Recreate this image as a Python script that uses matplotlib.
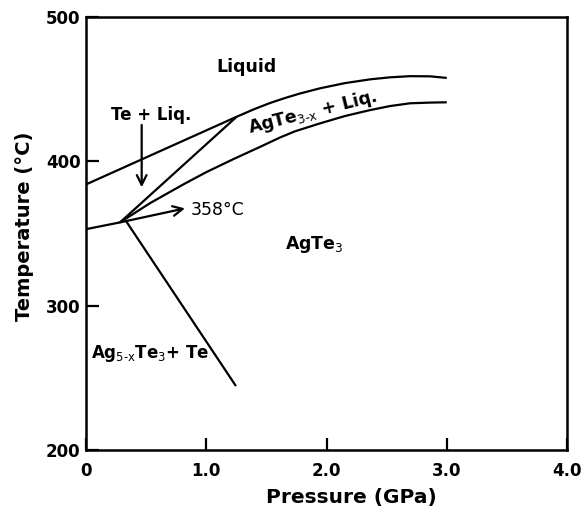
import matplotlib
matplotlib.use("Agg")
import matplotlib.pyplot as plt

plt.rcParams['font.family'] = ['DejaVu Sans']
plt.rcParams['mathtext.fontset'] = 'dejavusans'
plt.rcParams['mathtext.default'] = 'regular'

# Phase boundaries (Pressure GPa, Temperature C)
liq_upper_p = [0.0, 1.253, 1.40, 1.53, 1.66, 1.78, 1.946, 2.154, 2.362, 2.528, 2.694, 2.86, 3.0]
liq_upper_t = [384.0, 430.9, 436.2, 440.4, 444.0, 447.0, 450.6, 454.2, 456.8, 458.2, 459.0, 458.9, 457.8]

te_liq_inner_p = [0.283, 1.253]
te_liq_inner_t = [357.7, 430.9]

solidus_left_p = [0.0, 0.283]
solidus_left_t = [353.0, 357.7]

agte3_lower_p = [0.283, 0.532, 0.809, 1.0, 1.225, 1.447, 1.613, 1.738, 1.946, 2.154, 2.362, 2.528, 2.694, 2.86, 3.0]
agte3_lower_t = [357.7, 371.0, 384.0, 392.5, 401.5, 410.0, 416.5, 420.8, 426.3, 431.4, 435.5, 438.3, 440.2, 440.7, 440.9]

decomp_p = [0.333, 1.247]
decomp_t = [358.6, 244.3]

x_ticks = [0, 1, 2, 3, 4]
x_tick_labels = ["0", "1.0", "2.0", "3.0", "4.0"]
y_ticks = [200, 300, 400, 500]
y_tick_labels = ["200", "300", "400", "500"]

W, H = 583, 516
fig = plt.figure(figsize=(W / 100, H / 100), dpi=100)
ax = fig.add_axes([86 / W, 1 - 450 / H, (567 - 86) / W, (450 - 17) / H])

lw = 1.6
for p, t in [(liq_upper_p, liq_upper_t), (te_liq_inner_p, te_liq_inner_t),
             (solidus_left_p, solidus_left_t), (agte3_lower_p, agte3_lower_t),
             (decomp_p, decomp_t)]:
    ax.plot(p, t, color='black', lw=lw, solid_capstyle='butt', solid_joinstyle='round')

ax.set_xlim(0, 4)
ax.set_ylim(200, 500)
ax.set_xticks(x_ticks)
ax.set_xticklabels(x_tick_labels)
ax.set_yticks(y_ticks)
ax.set_yticklabels(y_tick_labels)
ax.tick_params(direction='in', length=9, width=1.6, labelsize=12)
ax.tick_params(axis='x', pad=9)
ax.tick_params(axis='y', pad=4)
for lab in ax.get_xticklabels() + ax.get_yticklabels():
    lab.set_fontweight('bold')
for s in ax.spines.values():
    s.set_linewidth(1.8)

ax.set_xlabel('Pressure (GPa)', fontsize=14.5, fontweight='bold')
ax.xaxis.set_label_coords(0.551, -0.088)
ax.set_ylabel('Temperature (\u00b0C)', fontsize=14, fontweight='bold')
ax.yaxis.set_label_coords(-0.108, 0.516)

# Arrows
arrow_kw = dict(arrowstyle='->,head_length=0.7,head_width=0.35', color='black', lw=1.6,
                shrinkA=0, shrinkB=0)
ax.annotate('', xy=(0.463, 382.0), xytext=(0.463, 425.2), arrowprops=arrow_kw)
ax.annotate('', xy=(0.823, 367.4), xytext=(0.283, 357.7), arrowprops=arrow_kw)

# Labels
ax.text(0.87, 366.3, '358\u00b0C', fontsize=12.5, ha='left', va='center')
ax.text(1.335, 465.3, 'Liquid', fontsize=12.5, fontweight='bold', ha='center', va='center')
ax.text(0.539, 432.1, 'Te + Liq.', fontsize=12, fontweight='bold', ha='center', va='center')
ax.text(1.88, 434.2, 'AgTe$_{\\mathrm{3\\text{-}x}}$ + Liq.', fontsize=12.5, fontweight='bold',
        ha='center', va='center', rotation=14, rotation_mode='anchor')
ax.text(1.90, 342.7, 'AgTe$_{\\mathrm{3}}$', fontsize=12.5, fontweight='bold', ha='center', va='center')
ax.text(0.04, 267.2, 'Ag$_{\\mathrm{5\\text{-}x}}$Te$_{\\mathrm{3}}$+ Te', fontsize=12, fontweight='bold',
        ha='left', va='center')

fig.savefig('out.png', dpi=100)
